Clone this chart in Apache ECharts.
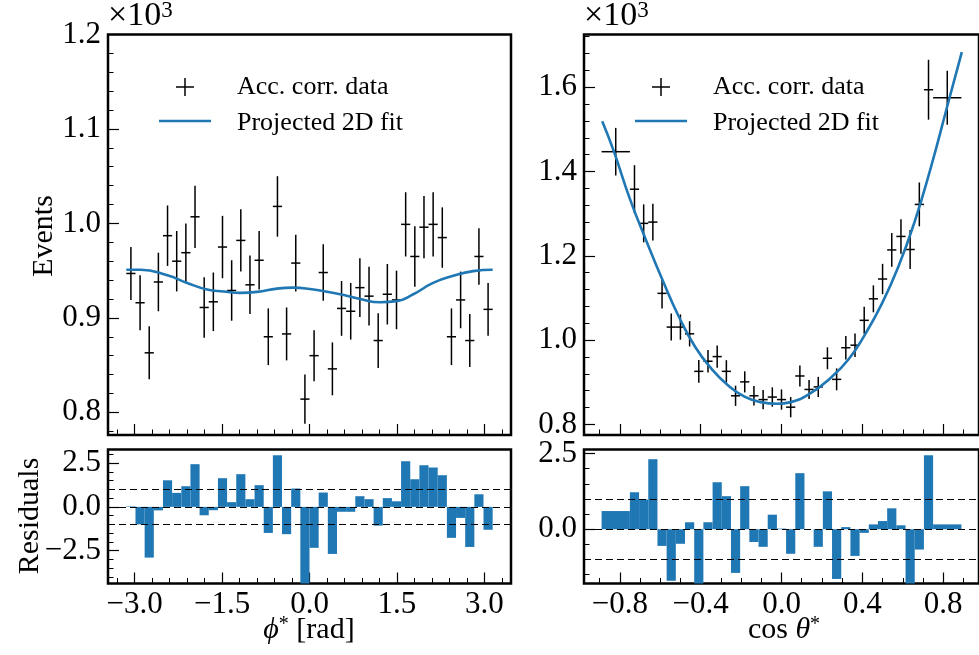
<!DOCTYPE html>
<html><head><meta charset="utf-8">
<script src="https://cdn.jsdelivr.net/npm/echarts@6/dist/echarts.min.js"></script>
<style>html,body{margin:0;padding:0;background:#fff}#c{width:979px;height:655px}</style>
</head><body><div id="c"></div>
<script>
// ---------- data: phi* panel ----------
const phiEdges = [-3.1416,-2.9845,-2.8274,-2.6704,-2.5133,-2.3562,-2.1991,-2.0420,-1.8850,-1.7279,-1.5708,-1.4137,-1.2566,-1.0996,-0.9425,-0.7854,-0.6283,-0.4712,-0.3142,-0.1571,0,0.1571,0.3142,0.4712,0.6283,0.7854,0.9425,1.0996,1.2566,1.4137,1.5708,1.7279,1.8850,2.0420,2.1991,2.3562,2.5133,2.6704,2.8274,2.9845,3.1416];
const phiVals = [947,916,863,938,987,960,969,1007,911,917,975,929,982,935,961,880,1018,883,958,814,860,948,846,910,907,932,923,876,925,919,999,965,996,999,985,880,919,876,965,909];
const phiErr  = [28,29,28,31,32,32,31,33,32,31,33,32,33,31,31,30,32,28,30,26,27,30,28,29,30,31,31,29,32,31,34,32,33,34,32,30,30,28,30,28];
const phiRes  = [0.03,-1.0,-2.9,-0.2,1.52,0.8,1.18,2.44,-0.48,-0.19,1.64,0.27,1.87,0.44,1.24,-1.49,2.95,-1.56,1.05,-4.6,-2.34,0.82,-2.69,-0.28,-0.28,0.61,0.44,-1.07,0.5,0.32,2.61,1.58,2.38,2.25,1.81,-1.77,-0.63,-2.29,0.72,-1.31];
const phiFitX = [-3.1416,-2.897,-2.44,-2.098,-1.756,-1.471,-1.186,-0.9,-0.558,-0.274,0.068,0.183,0.525,0.868,1.21,1.495,1.78,2.12,2.464,2.806,3.1416];
const phiFitY = [951,951,945,937,930,928,926.5,927.5,931,932,930,929,925,920,916.6,917.7,925,937,944.5,949.5,951];
// ---------- data: cos theta* panel ----------
const cosEdges = [-0.89,-0.75,-0.7045,-0.6591,-0.6136,-0.5682,-0.5227,-0.4773,-0.4318,-0.3864,-0.3409,-0.2955,-0.2500,-0.2045,-0.1591,-0.1136,-0.0682,-0.0227,0.0227,0.0682,0.1136,0.1591,0.2045,0.2500,0.2955,0.3409,0.3864,0.4318,0.4773,0.5227,0.5682,0.6136,0.6591,0.7045,0.75,0.89];
const cosVals = [1447,1358,1277,1280,1111,1031,1031,1015,926,950,961,926,868,901,868,859,865,859,841,915,883,889,957,907,982,988,1047,1098,1145,1214,1246,1215,1322,1594,1575];
const cosErr  = [56.5,57,45,43.5,36,32,30,30,27,26.5,26.5,26.5,24,25,23,23,23,24,24,25,22.5,24,26,26,28,28,32,32,36,40,41,46,52,71,64];
const cosRes  = [0.60,1.22,0.98,2.31,-0.55,-1.70,-0.48,0.23,-1.85,0.23,1.55,1.09,-1.44,1.42,-0.42,-0.58,0.48,0.02,-0.81,1.85,0.0,-0.58,1.25,-1.64,0.07,-0.88,-0.12,0.16,0.27,0.69,0.13,-1.85,-0.67,2.44,0.16];
const cosFitX = [-0.887,-0.831,-0.75,-0.669,-0.588,-0.507,-0.426,-0.346,-0.265,-0.183,-0.103,-0.022,0.046,0.14,0.237,0.334,0.415,0.496,0.577,0.658,0.739,0.819,0.892];
const cosFitY = [1519,1450,1335,1236,1142,1055,983,932,893,866,853,849,853,873,908,956,1015,1086,1173,1280,1410,1553,1683];
// ---------- ticks ----------
const phiMajor = [-3,-1.5,0,1.5,3];
const phiMinor = [-3.3,-2.7,-2.4,-2.1,-1.8,-1.2,-0.9,-0.6,-0.3,0.3,0.6,0.9,1.2,1.8,2.1,2.4,2.7,3.3];
const cosMajor = [-0.8,-0.4,0,0.4,0.8];
const cosMinor = [-0.9,-0.7,-0.6,-0.5,-0.3,-0.2,-0.1,0.1,0.2,0.3,0.5,0.6,0.7,0.9];
const evLMajor = [800,900,1000,1100,1200];
const evLMinor = [780,820,840,860,880,920,940,960,980,1020,1040,1060,1080,1120,1140,1160,1180];
const evRMajor = [800,1000,1200,1400,1600];
const evRMinor = [840,880,920,960,1040,1080,1120,1160,1240,1280,1320,1360,1440,1480,1520,1560,1640,1680,1720];
const resLMajor = [-2.5,0,2.5];
const resLMinor = [-4,-3.5,-3,-2,-1.5,-1,-0.5,0.5,1,1.5,2,3];
const resRMajor = [0,2.5];
const resRMinor = [-1.5,-1,-0.5,0.5,1,1.5,2];
const refLines = [1,0,-1];

const FONT = 'Liberation Serif';
const BLUE = '#1f77b4';
const TICKFS = 31;

function fmt1(v){ const s=Math.abs(v).toFixed(1); return v<0?'\u2212'+s:s; }
function fmtK(v){ return (v/1000).toFixed(1); }

function rows3(edges, vals, err){ return vals.map((v,i)=>[edges[i],edges[i+1],v,err?err[i]:0]); }

function errRender(params, api){
  const lo=api.value(0), hi=api.value(1), v=api.value(2), e=api.value(3);
  const m=(lo+hi)/2;
  const pl=api.coord([lo,v]), ph=api.coord([hi,v]);
  const pt=api.coord([m,v+e]), pb=api.coord([m,v-e]);
  const st={stroke:'#000',lineWidth:1.5};
  return {type:'group',children:[
    {type:'line',shape:{x1:pl[0],y1:pl[1],x2:ph[0],y2:ph[1]},style:st},
    {type:'line',shape:{x1:pt[0],y1:pt[1],x2:pb[0],y2:pb[1]},style:st}
  ]};
}
function barRender(params, api){
  const lo=api.value(0), hi=api.value(1), v=api.value(2);
  const p0=api.coord([lo,0]), p1=api.coord([hi,v]);
  const cs=params.coordSys;
  const top=Math.max(Math.min(p0[1],p1[1]),cs.y);
  const bot=Math.min(Math.max(p0[1],p1[1]),cs.y+cs.height);
  return {type:'rect',shape:{x:p0[0],y:top,width:p1[0]-p0[0],height:Math.max(0,bot-top)},style:{fill:BLUE}};
}

const grids = [
  {left:108,top:34.5,width:403,height:400.5},
  {left:108,top:449.5,width:403,height:134},
  {left:584,top:34.5,width:403,height:400.5},
  {left:584,top:449.5,width:403,height:134}
].map(g=>Object.assign(g,{show:true,borderColor:'#000',borderWidth:2.5,backgroundColor:'transparent'}));

function axis(gridIndex,min,max,major,minor,labels,fmt,isX){
  const base={gridIndex,type:'value',min,max,axisLine:{show:false,onZero:false},splitLine:{show:false},
    position:isX?'bottom':'left'};
  const a1=Object.assign({},base,{
    axisTick:{show:true,inside:true,length:11,customValues:major,lineStyle:{color:'#000',width:1.2}},
    axisLabel:{show:labels,customValues:major,formatter:fmt,color:'#000',fontFamily:FONT,fontSize:TICKFS,margin:isX?6:7}
  });
  const a2=Object.assign({},base,{
    axisTick:{show:true,inside:true,length:5.5,customValues:minor,lineStyle:{color:'#000',width:1}},
    axisLabel:{show:false}
  });
  return [a1,a2];
}
const xs=[], ys=[];
[[0,-3.456,3.456,phiMajor,phiMinor,false],[1,-3.456,3.456,phiMajor,phiMinor,true],
 [2,-0.977,0.977,cosMajor,cosMinor,false],[3,-0.977,0.977,cosMajor,cosMinor,true]].forEach(d=>{
  const [a,b]=axis(d[0],d[1],d[2],d[3],d[4],d[5],fmt1,true); xs.push(a,b);
});
[[0,776,1200,evLMajor,evLMinor,fmtK],[1,-4.38,3.28,resLMajor,resLMinor,fmt1],
 [2,775,1725,evRMajor,evRMinor,fmtK],[3,-1.79,2.63,resRMajor,resRMinor,fmt1]].forEach(d=>{
  const [a,b]=axis(d[0],d[1],d[2],d[3],d[4],true,d[5],false); ys.push(a,b);
});

function dashLines(ax){
  return {type:'line',xAxisIndex:ax,yAxisIndex:ax,data:[],silent:true,z:5,
    markLine:{silent:true,symbol:['none','none'],label:{show:false},animation:false,
      lineStyle:{color:'#000',width:1.2,type:[7,4]},
      data:refLines.map(v=>({yAxis:v}))}};
}

const series=[
  {type:'custom',xAxisIndex:0,yAxisIndex:0,renderItem:errRender,data:rows3(phiEdges,phiVals,phiErr),z:3},
  {type:'line',xAxisIndex:0,yAxisIndex:0,data:phiFitX.map((x,i)=>[x,phiFitY[i]]),smooth:true,showSymbol:false,
    lineStyle:{color:BLUE,width:2.6},z:4},
  {type:'custom',xAxisIndex:2,yAxisIndex:2,renderItem:barRender,data:rows3(phiEdges,phiRes),z:2},
  dashLines(2),
  {type:'custom',xAxisIndex:4,yAxisIndex:4,renderItem:errRender,data:rows3(cosEdges,cosVals,cosErr),z:3},
  {type:'line',xAxisIndex:4,yAxisIndex:4,data:cosFitX.map((x,i)=>[x,cosFitY[i]]),smooth:true,showSymbol:false,
    lineStyle:{color:BLUE,width:2.6},z:4},
  {type:'custom',xAxisIndex:6,yAxisIndex:6,renderItem:barRender,data:rows3(cosEdges,cosRes),z:2},
  dashLines(6)
];

const txt=(x,y,text,extra)=>({type:'text',x,y,style:Object.assign({text,fill:'#000',fontFamily:FONT,fontSize:26},extra||{})});
function legend(dx){
  return [
    {type:'line',shape:{x1:176+dx,y1:87,x2:194+dx,y2:87},style:{stroke:'#000',lineWidth:1.5}},
    {type:'line',shape:{x1:185+dx,y1:78,x2:185+dx,y2:96},style:{stroke:'#000',lineWidth:1.5}},
    txt(237+dx,87,'Acc. corr. data',{verticalAlign:'middle',fontSize:26}),
    {type:'line',shape:{x1:159+dx,y1:121,x2:211+dx,y2:121},style:{stroke:BLUE,lineWidth:2.6}},
    txt(237+dx,123,'Projected 2D fit',{verticalAlign:'middle',fontSize:26})
  ];
}
const sci=(x)=>({type:'text',x,y:-1,style:{text:'{m|\u00d710}{s|3}',fill:'#000',fontFamily:FONT,
  rich:{m:{fontFamily:FONT,fontSize:34,fill:'#000',verticalAlign:'bottom'},s:{fontFamily:FONT,fontSize:23,verticalAlign:'top',fill:'#000'}}}});
const rs={i:{fontFamily:FONT,fontStyle:'italic',fontSize:30,fill:'#000',verticalAlign:'bottom'},
          m:{fontFamily:FONT,fontSize:30,fill:'#000',verticalAlign:'bottom'},
          s:{fontFamily:FONT,fontSize:20,fill:'#000',verticalAlign:'top'}};
const graphics=[].concat(legend(0),legend(476),[
  sci(108), sci(584),
  {type:'text',x:44,y:236,rotation:Math.PI/2,style:{text:'Events',fill:'#000',fontFamily:FONT,fontSize:30,align:'center',verticalAlign:'middle'}},
  {type:'text',x:30,y:516,rotation:Math.PI/2,style:{text:'Residuals',fill:'#000',fontFamily:FONT,fontSize:30,align:'center',verticalAlign:'middle'}},
  {type:'text',x:309,y:630,style:{text:'{i|\u03d5}{s|*}{m| [rad]}',align:'center',verticalAlign:'middle',rich:rs}},
  {type:'text',x:784,y:630,style:{text:'{m|cos }{i|\u03b8}{s|*}',align:'center',verticalAlign:'middle',rich:rs}}
]);

const chart=echarts.init(document.getElementById('c'),null,{renderer:'canvas'});
chart.setOption({animation:false,backgroundColor:'#fff',grid:grids,xAxis:xs,yAxis:ys,series,graphic:{elements:graphics}});
</script></body></html>
